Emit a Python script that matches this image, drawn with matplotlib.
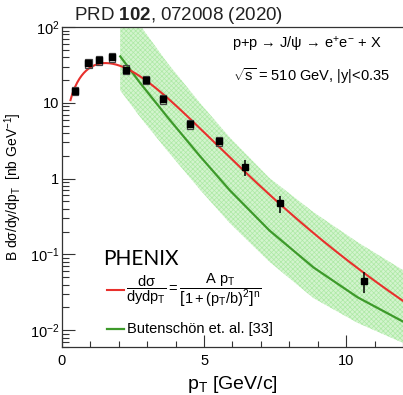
import numpy as np
import matplotlib
matplotlib.use('Agg')
import matplotlib.pyplot as plt
from matplotlib.ticker import FixedLocator, FuncFormatter, NullFormatter
from matplotlib.patches import Rectangle
from matplotlib.lines import Line2D

plt.rcParams['font.family'] = ['Liberation Sans', 'DejaVu Sans']
plt.rcParams['mathtext.fontset'] = 'custom'
plt.rcParams['mathtext.rm'] = 'Liberation Sans'
plt.rcParams['mathtext.it'] = 'Liberation Sans'
plt.rcParams['mathtext.bf'] = 'Liberation Sans:bold'
plt.rcParams['mathtext.sf'] = 'Liberation Sans'
plt.rcParams['hatch.linewidth'] = 0.5

# PHENIX J/psi -> ee, |y|<0.35
pt = [0.46, 0.93, 1.31, 1.77, 2.25, 2.95, 3.55, 4.50, 5.53, 6.45, 7.68, 10.63]
xsec = [14.4, 33.5, 36.5, 40.0, 27.5, 20.3, 11.2, 5.2, 3.1, 1.42, 0.47, 0.0447]
stat = [0.8, 1.5, 1.6, 1.8, 1.3, 1.2, 0.7, 0.35, 0.25, 0.33, 0.12, 0.014]
syst = [1.9, 4.3, 4.7, 5.2, 3.6, 2.6, 1.5, 0.68, 0.40]

# fit dsigma/dydpT = A pT / (1+(pT/b)^2)^n
A, b, n = 37.0, 4.4, 4.6

# Butenschon et al. NRQCD curve and its uncertainty band
pt_th = [2.05, 2.75, 3.7, 4.85, 5.9, 7.3, 8.85, 10.4, 12.0]
th = [41.0, 18.3, 6.56, 1.99, 0.705, 0.207, 0.0673, 0.0272, 0.0130]
th_hi = [230.0, 105.0, 34.0, 10.0, 3.5, 1.02, 0.36, 0.145, 0.062]
th_lo = [14.6, 6.5, 2.35, 0.72, 0.26, 0.080, 0.0265, 0.0125, 0.0068]

fig = plt.figure(figsize=(4.03, 3.95), dpi=100)
ax = fig.add_axes([0.1538, 0.1215, 0.8462, 0.81])

ax.fill_between(pt_th, th_lo, th_hi, facecolor='#d3f4ce', edgecolor='#ade9a5',
                hatch='xxxxxxx', linewidth=0, zorder=1)
ax.plot(pt_th, th, color='#3d9a2a', lw=1.6, zorder=2)

xf = np.linspace(0.3, 12, 300)
ax.plot(xf, A * xf / (1 + (xf / b) ** 2) ** n, color='#e8302c', lw=1.5, zorder=3)

for i in range(len(syst)):
    ax.add_patch(Rectangle((pt[i] - 0.11, xsec[i] - syst[i]), 0.22, 2 * syst[i],
                           facecolor='none', edgecolor='#444444', lw=0.9, zorder=4))
ax.errorbar(pt, xsec, yerr=stat, fmt='s', color='black', ms=4.5, elinewidth=1.1,
            capsize=0, zorder=5)

ax.set_yscale('log')
ax.set_xlim(0, 12)
ax.set_ylim(6e-3, 100)

ax.xaxis.set_major_locator(FixedLocator([0, 5, 10]))
ax.xaxis.set_minor_locator(FixedLocator(range(0, 13)))
ylabs = {0.01: r'$10^{-2}$', 0.1: r'$10^{-1}$', 1: '1', 10: '10', 100: r'$10^{2}$'}
ax.yaxis.set_major_locator(FixedLocator(list(ylabs.keys())))
ax.yaxis.set_major_formatter(FuncFormatter(lambda v, p: ylabs.get(round(v, 3), '')))
ax.yaxis.set_minor_locator(FixedLocator([m * 10.0 ** e for e in range(-3, 2) for m in range(2, 10)]))
ax.yaxis.set_minor_formatter(NullFormatter())
ax.tick_params(which='both', direction='in', labelsize=10.5, color='#333333')
ax.tick_params(which='major', length=9, width=0.8)
ax.tick_params(which='minor', length=5, width=0.8)
ax.tick_params(axis='x', which='minor', length=4)
ax.tick_params(axis='x', pad=5)
ax.tick_params(axis='y', pad=2)
for s in ['left', 'bottom', 'top']:
    ax.spines[s].set_color('#333333')
    ax.spines[s].set_linewidth(0.9)
ax.spines['right'].set_visible(False)

ax.set_xlabel(r'p$_{\mathrm{T}}$ [GeV/c]', fontsize=14)
ax.xaxis.set_label_coords(0.5, -0.085)
ax.set_ylabel(r'B d$\sigma$/dy/dp$_{\mathrm{T}}$  [nb GeV$^{-1}$]', fontsize=10)
ax.yaxis.set_label_coords(-0.11, 0.50)

fig.text(0.183, 0.962, r'PRD $\mathbf{102}$, 072008 (2020)', fontsize=13.5,
         color='#222222', va='center')
fig.text(0.576, 0.887, 'p+p → J/ψ → e$^{+}$e$^{-}$ + X', fontsize=10.5, va='center')
fig.text(0.578, 0.808, r'$\sqrt{s}$ = 510 GeV, |y|<0.35', fontsize=10.5, va='center')

fig.text(0.257, 1 - 259 / 395, 'PHENIX', fontsize=15, family='Lato', va='center')
fig.add_artist(Line2D([107 / 403, 124 / 403], [1 - 290 / 395] * 2, color='#e8302c', lw=1.5))
fig.text(0.313, 1 - 290 / 395,
         r'$\dfrac{\mathrm{d}\sigma}{\mathrm{dydp}_\mathrm{T}} = '
         r'\dfrac{\mathrm{A\ p}_\mathrm{T}}{\left[1+(\mathrm{p}_\mathrm{T}/\mathrm{b})^2\right]^\mathrm{n}}$',
         fontsize=10.5, va='center')
fig.add_artist(Line2D([107 / 403, 124 / 403], [1 - 329 / 395] * 2, color='#3d9a2a', lw=1.6))
fig.text(0.315, 1 - 329 / 395, 'Butenschön et. al. [33]', fontsize=10.5, va='center')

fig.savefig('out.png', dpi=100)
